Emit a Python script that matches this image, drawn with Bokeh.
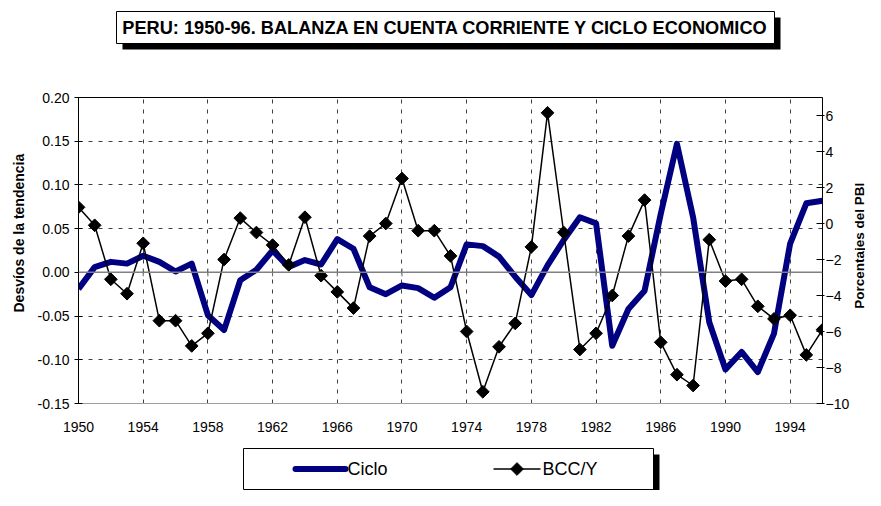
import math
from bokeh.plotting import figure
from bokeh.models import Range1d, LinearAxis, FixedTicker, NumeralTickFormatter, Span, Title
from bokeh.layouts import column, row
from bokeh.embed import file_html
from bokeh.resources import INLINE
from bokeh.core.properties import value

# ---------------- data ----------------
title_text = "PERU: 1950-96. BALANZA EN CUENTA CORRIENTE Y CICLO ECONOMICO"
left_label = "Desvíos de la tendencia"
right_label = "Porcentajes del PBI"
series_names = ["Ciclo", "BCC/Y"]

years = list(range(1950, 1997))
ciclo = [-0.019, 0.006, 0.012, 0.010, 0.019, 0.012, 0.001, 0.010, -0.049, -0.066,
         -0.009, 0.003, 0.025, 0.006, 0.014, 0.009, 0.038, 0.027, -0.017, -0.025,
         -0.015, -0.018, -0.029, -0.017, 0.032, 0.030, 0.018, -0.005, -0.026, 0.008,
         0.037, 0.063, 0.056, -0.084, -0.042, -0.021, 0.067, 0.147, 0.063, -0.057,
         -0.111, -0.091, -0.114, -0.070, 0.033, 0.079, 0.082]
bcc = [0.9, -0.1, -3.1, -3.9, -1.1, -5.4, -5.4, -6.8, -6.1, -2.0,
       0.3, -0.5, -1.2, -2.3, 0.35, -2.9, -3.8, -4.7, -0.7, 0.0,
       2.5, -0.4, -0.4, -1.8, -6.0, -9.35, -6.85, -5.55, -1.3, 6.15,
       -0.5, -7.0, -6.1, -4.0, -0.7, 1.3, -6.6, -8.4, -9.0, -0.9,
       -3.2, -3.1, -4.6, -5.3, -5.1, -7.3, -5.9]

x_ticks = list(range(1950, 1995, 4))
left_ticks = [-0.15, -0.10, -0.05, 0.0, 0.05, 0.10, 0.15, 0.20]
right_ticks = list(range(-10, 7, 2))

FONT = "Liberation Sans"
NAVY = "#000080"
W = 865
BL, BR = 76, 37          # left / right borders -> frame spans x 76..828
FL, FR = BL, W - BR


def deco_fig(h, w=W, xr=None, yr=None, bl=BL, br=BR):
    f = figure(width=w, height=h,
               x_range=xr if xr is not None else Range1d(FL, FR),
               y_range=yr if yr is not None else Range1d(h, 0),
               min_border_left=bl, min_border_right=br, min_border_top=0, min_border_bottom=0,
               toolbar_location=None, output_backend="svg",
               x_axis_location=None, y_axis_location=None, outline_line_color=None)
    f.xgrid.visible = False
    f.ygrid.visible = False
    return f


# ---------------- title ----------------
TH = 60
tf = deco_fig(TH)
tf.quad(left=[122], right=[780], top=[17], bottom=[49], fill_color="black", line_color=None)
tf.quad(left=[116], right=[774], top=[11], bottom=[43], fill_color="white",
        line_color="black", line_width=1)
tf.text(x=[445], y=[27.5], text=[title_text], text_font=value(FONT),
        text_font_style="bold", text_font_size="18.2px", text_align="center",
        text_baseline="middle", text_color="black")

# ---------------- main chart ----------------
MH = 380
PW = 852                 # main figure width; a narrow strip to its right holds the right title
PBR = PW - FR            # right border of main figure
x0, x1 = 1950, 1996
y0, y1 = -0.15, 0.20
BT, BB = 37, 37          # frame spans y 97..403 on the page
p = figure(width=PW, height=MH, x_range=Range1d(x0, x1), y_range=Range1d(y0, y1),
           min_border_left=BL, min_border_right=PBR, min_border_top=BT, min_border_bottom=BB,
           toolbar_location=None, output_backend="svg", outline_line_color=None)
p.extra_y_ranges = {"pct": Range1d(-10, 7)}

frame_h = MH - BT - BB
ypp = (y1 - y0) / frame_h

# grids
p.xgrid.ticker = FixedTicker(ticks=x_ticks[1:])
p.ygrid.ticker = FixedTicker(ticks=left_ticks)
for g in (p.xgrid, p.ygrid):
    g.grid_line_color = "#404040"
    g.grid_line_dash = "4 6"
    g.grid_line_width = 1

# left axis
ya = p.yaxis[0]
ya.ticker = FixedTicker(ticks=left_ticks)
ya.formatter = NumeralTickFormatter(format="0.00")
ya.major_label_text_font = FONT
ya.major_label_text_font_size = "14px"
ya.major_label_text_color = "black"
ya.major_tick_in = 4
ya.major_tick_out = 4
ya.major_label_standoff = 5
ya.minor_tick_line_color = None
ya.axis_line_color = "black"
ya.major_tick_line_color = "black"

# left axis title (offset from frame bottom so it sits where the original does)
p.add_layout(Title(text=left_label, align="left", offset=91, vertical_align="bottom",
                   standoff=16, text_font=FONT, text_font_style="bold",
                   text_font_size="14px", text_color="black"), "left")

# bottom axis (labels only)
xa = p.xaxis[0]
xa.ticker = FixedTicker(ticks=x_ticks)
xa.major_label_text_font = FONT
xa.major_label_text_font_size = "14px"
xa.major_label_text_color = "black"
xa.major_tick_in = 0
xa.major_tick_out = 0
xa.major_tick_line_color = None
xa.minor_tick_line_color = None
xa.major_label_standoff = 18
xa.axis_line_color = "#a0a0a0"

# right axis
ra = LinearAxis(y_range_name="pct", ticker=FixedTicker(ticks=right_ticks))
ra.major_label_text_font = FONT
ra.major_label_text_font_size = "14px"
ra.major_label_text_color = "black"
ra.major_tick_in = 6
ra.major_tick_out = 2
ra.major_label_standoff = 1
ra.minor_tick_line_color = None
ra.axis_line_color = "black"
p.add_layout(ra, "right")

# top border
ta = LinearAxis(ticker=FixedTicker(ticks=[]), axis_line_color="black",
                major_tick_line_color=None, minor_tick_line_color=None)
p.add_layout(ta, "above")

# zero line acting as category axis
p.add_layout(Span(location=0, dimension="width", line_color="#808080", line_width=1.5))
p.segment(x0=x_ticks, y0=[-4 * ypp] * len(x_ticks), x1=x_ticks, y1=[4 * ypp] * len(x_ticks),
          line_color="#606060", line_width=1)

# series
p.line(years, ciclo, line_color=NAVY, line_width=6, line_join="round")
p.line(years, bcc, y_range_name="pct", line_color="black", line_width=1.5)
p.scatter(years, bcc, y_range_name="pct", marker="square", angle=math.pi / 4, size=9,
          fill_color="black", line_color="black")

# ---------------- right axis title strip ----------------
RW = W - PW
rf = deco_fig(MH, w=RW, xr=Range1d(0, RW), yr=Range1d(0, MH), bl=0, br=0)
rf.text(x=[RW / 2], y=[MH - (244 - TH)], text=[right_label], angle=math.pi / 2,
        text_font=value(FONT), text_font_style="bold", text_font_size="13.5px",
        text_align="center", text_baseline="middle", text_color="black")

# ---------------- legend ----------------
LH = 50
lf = deco_fig(LH)
lf.quad(left=[249], right=[659], top=[14], bottom=[56], fill_color="black", line_color=None)
lf.quad(left=[243], right=[653], top=[8], bottom=[49], fill_color="white",
        line_color="black", line_width=1)
cy = 28.5
lf.line([295, 345], [cy, cy], line_color=NAVY, line_width=6, line_cap="round")
lf.line([493, 540], [cy, cy], line_color="black", line_width=1.5)
lf.scatter([516.5], [cy], marker="square", angle=math.pi / 4, size=9,
           fill_color="black", line_color="black")
lf.text(x=[347, 542], y=[cy, cy], text=series_names, text_font=value(FONT),
        text_font_size="18px", text_align="left", text_baseline="middle", text_color="black")

layout = column(tf, row(p, rf, spacing=0), lf, spacing=0)
open("out.html", "w").write(file_html(layout, INLINE))
